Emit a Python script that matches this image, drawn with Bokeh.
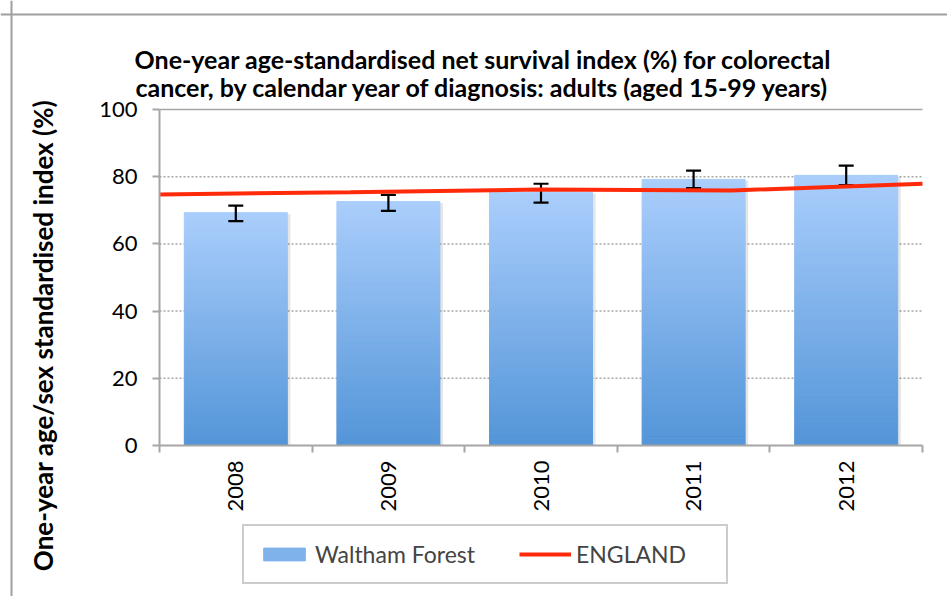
import math
import numpy as np
from bokeh.plotting import figure
from bokeh.models import (Range1d, FixedTicker, Legend, LegendItem, Span, Label)
from bokeh.embed import file_html
from bokeh.resources import INLINE

# ---- data ----
years = ["2008", "2009", "2010", "2011", "2012"]
waltham = [69.3, 72.6, 75.4, 79.2, 80.4]
waltham_upper = [71.4, 74.6, 77.9, 81.8, 83.3]
waltham_lower = [66.8, 69.8, 72.3, 76.6, 77.5]
england = [74.7, 75.4, 76.2, 75.9, 77.9]
y_ticks = [0, 20, 40, 60, 80, 100]

title_lines = ["One-year age-standardised net survival index (%) for colorectal",
               "cancer, by calendar year of diagnosis: adults (aged 15-99 years)"]
ylabel_text = "One-year age/sex standardised index (%)"

FONT = "Lato"
GRAY = "#A6A6A6"
RED = "#FF2A0A"
TOP_C = np.array([0xAA, 0xCE, 0xFC])
BOT_C = np.array([0x53, 0x95, 0xD8])

# ---- layout (canvas pixels, origin top-left) ----
W, H = 947, 596
PX_L, PX_R = 159, 922     # plot area left/right
PX_T, PX_B = 109, 445     # plot area top/bottom

n = len(years)
xc = [i + 0.5 for i in range(n)]
ymin, ymax = y_ticks[0], y_ticks[-1]
sx = (PX_R - PX_L) / n
sy = (PX_B - PX_T) / (ymax - ymin)
x_range = Range1d(-PX_L / sx, n + (W - PX_R) / sx)
y_range = Range1d(ymin - (H - PX_B) / sy, ymax + PX_T / sy)

p = figure(width=W, height=H, output_backend="svg", toolbar_location=None,
           x_range=x_range, y_range=y_range, title=None,
           min_border_left=0, min_border_right=0, min_border_top=0, min_border_bottom=0)
p.outline_line_color = None
p.background_fill_color = "white"
p.border_fill_color = "white"
p.grid.visible = False

# chart-area border (left and top edges)
p.add_layout(Span(location=11, location_units="screen", dimension="height",
                  line_color="#A0A0A0", line_width=2))
p.add_layout(Span(location=H - 14, location_units="screen", dimension="width",
                  line_color="#A0A0A0", line_width=2))

# gridlines (dotted), top one solid
p.segment(x0=0, x1=n, y0=y_ticks[1:-1], y1=y_ticks[1:-1], line_color=GRAY,
          line_dash="2 2", line_width=1.5)
p.segment(x0=0, x1=n, y0=[ymax], y1=[ymax], line_color=GRAY, line_width=1.5)

# bars: shadow + vertical gradient built from stacked slices
BW = 0.675
p.vbar(x=[x + 0.02 for x in xc], top=[v - 0.4 for v in waltham], bottom=0, width=BW,
       fill_color="black", fill_alpha=0.10, line_color=None)
N = 80
bar_r = None
for k in range(N):
    f0, f1 = k / N, (k + 1) / N
    c = BOT_C + (TOP_C - BOT_C) * ((k + 0.5) / N)
    col = "#%02x%02x%02x" % tuple(int(round(v)) for v in c)
    r = p.vbar(x=xc, bottom=[v * f0 for v in waltham], top=[v * f1 for v in waltham],
               width=BW, fill_color=col, line_color=col, line_width=1)
    if k == N // 2:
        bar_r = r

# error bars
p.segment(x0=xc, x1=xc, y0=waltham_lower, y1=waltham_upper, line_color="black", line_width=2.2)
p.dash(x=xc + xc, y=waltham_upper + waltham_lower, size=15, line_color="black", line_width=2.2)

# England line spanning the whole axis width
ex = list(np.linspace(0, n, len(england)))
line_r = p.line(ex, england, line_color=RED, line_width=4)

# axes, pinned to the plot area
p.yaxis.fixed_location = 0
p.yaxis.bounds = (ymin, ymax)
p.yaxis.ticker = FixedTicker(ticks=y_ticks, minor_ticks=[])
p.yaxis.axis_line_color = GRAY
p.yaxis.axis_line_width = 2
p.yaxis.major_tick_line_color = GRAY
p.yaxis.major_tick_line_width = 2
p.yaxis.major_tick_out = 7
p.yaxis.major_tick_in = 0
p.yaxis.major_label_text_font = FONT
p.yaxis.major_label_text_font_size = "22px"
p.yaxis.major_label_text_color = "black"
p.yaxis.major_label_standoff = 15

p.xaxis.fixed_location = ymin
p.xaxis.bounds = (0, n)
p.xaxis.ticker = FixedTicker(ticks=xc, minor_ticks=list(range(n + 1)))
p.xaxis.major_label_overrides = {x: y for x, y in zip(xc, years)}
p.xaxis.major_label_orientation = math.pi / 2
p.xaxis.axis_line_color = GRAY
p.xaxis.axis_line_width = 2
p.xaxis.major_tick_line_color = None
p.xaxis.major_tick_out = 0
p.xaxis.major_tick_in = 0
p.xaxis.minor_tick_line_color = GRAY
p.xaxis.minor_tick_line_width = 2
p.xaxis.minor_tick_out = 7
p.xaxis.minor_tick_in = 0
p.xaxis.major_label_text_font = FONT
p.xaxis.major_label_text_font_size = "22px"
p.xaxis.major_label_text_color = "black"
p.xaxis.major_label_standoff = 8

# title (two lines) and y-axis title, positioned in screen px from canvas bottom-left
for txt, base_y in zip(title_lines, [58, 86]):
    p.add_layout(Label(x=482.5, y=H - base_y, x_units="screen", y_units="screen",
                       text=txt, text_align="center", text_baseline="alphabetic",
                       text_font=FONT, text_font_style="bold", text_font_size="25px",
                       text_color="black"))
p.add_layout(Label(x=42, y=H - 335, x_units="screen", y_units="screen",
                   text=ylabel_text, angle=math.pi / 2, text_align="center",
                   text_baseline="middle", text_font=FONT, text_font_style="bold",
                   text_font_size="26px", text_color="black"))

legend = Legend(items=[LegendItem(label="Waltham Forest", renderers=[bar_r]),
                       LegendItem(label="ENGLAND", renderers=[line_r])],
                orientation="horizontal", location=(242, H - 584),
                label_text_font=FONT, label_text_font_size="23px",
                glyph_width=52, glyph_height=16, label_standoff=5, spacing=44,
                padding=14, label_width=136,
                border_line_color="#999999", border_line_width=2,
                background_fill_color="white")
p.add_layout(legend, "center")

open("out.html", "w").write(file_html(p, INLINE))
